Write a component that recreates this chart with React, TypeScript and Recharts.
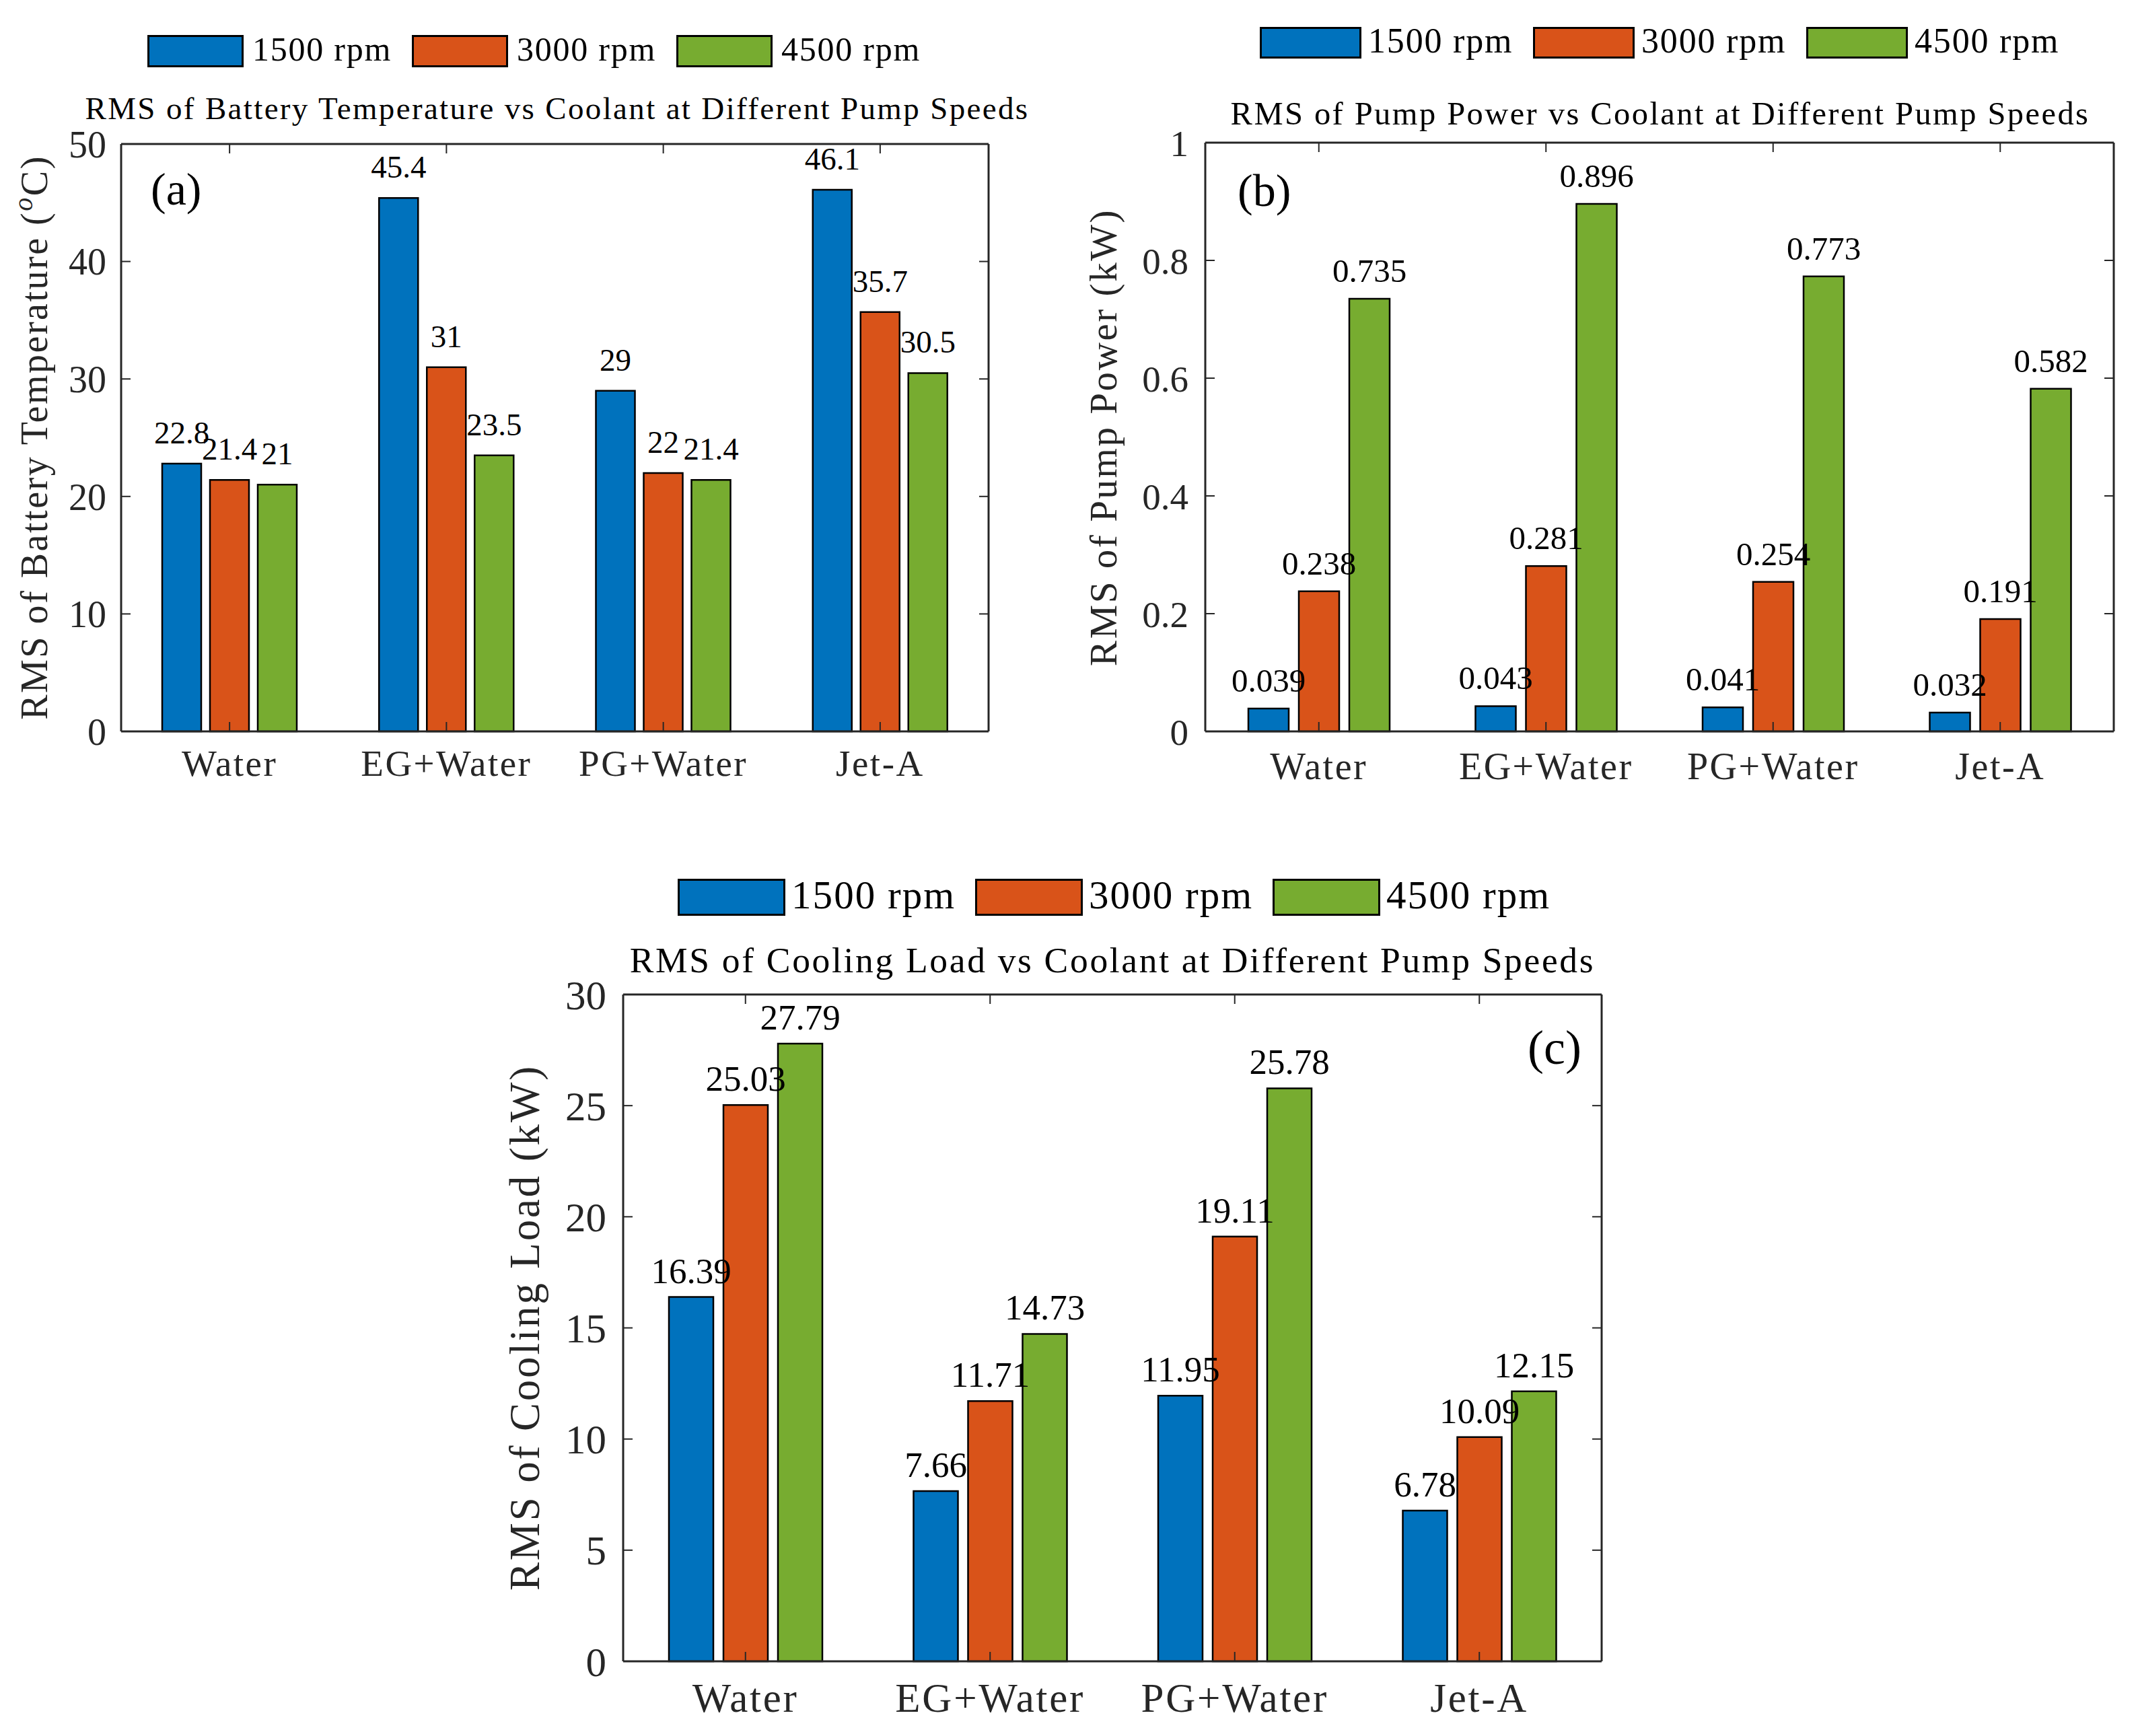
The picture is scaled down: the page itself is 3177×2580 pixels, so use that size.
import React from 'react';
import { BarChart, Bar, XAxis, YAxis, Legend, LabelList } from 'recharts';

// ---------- data ----------
const coolants = ['Water', 'EG+Water', 'PG+Water', 'Jet-A'];
const speeds = ['1500 rpm', '3000 rpm', '4500 rpm'];

const batteryTemp1500 = [22.8, 45.4, 29, 46.1];
const batteryTemp3000 = [21.4, 31, 22, 35.7];
const batteryTemp4500 = [21, 23.5, 21.4, 30.5];

const pumpPower1500 = [0.039, 0.043, 0.041, 0.032];
const pumpPower3000 = [0.238, 0.281, 0.254, 0.191];
const pumpPower4500 = [0.735, 0.896, 0.773, 0.582];

const coolingLoad1500 = [16.39, 7.66, 11.95, 6.78];
const coolingLoad3000 = [25.03, 11.71, 19.11, 10.09];
const coolingLoad4500 = [27.79, 14.73, 25.78, 12.15];

const tempTicks = [0, 10, 20, 30, 40, 50];
const powerTicks = [0, 0.2, 0.4, 0.6, 0.8, 1];
const loadTicks = [0, 5, 10, 15, 20, 25, 30];

const titleA = 'RMS of Battery Temperature vs Coolant at Different Pump Speeds';
const titleB = 'RMS of Pump Power vs Coolant at Different Pump Speeds';
const titleC = 'RMS of Cooling Load vs Coolant at Different Pump Speeds';
const yLabelA = 'RMS of Battery Temperature (';
const yLabelB = 'RMS of Pump Power (kW)';
const yLabelC = 'RMS of Cooling Load (kW)';

// ---------- styles ----------
const FONT = "'Liberation Serif', 'Times New Roman', serif";
const AX = '#262626';
const COLORS = ['#0072BD', '#D95319', '#77AC30'];

const buildRows = (series: number[][]) =>
  coolants.map((name, i) => {
    const row: Record<string, string | number> = { name };
    series.forEach((s, k) => {
      row['s' + k] = s[i];
    });
    return row;
  });

const noTick = () => <g />;

type PanelCfg = {
  left: number;
  top: number;
  width: number;
  height: number;
  margin: { top: number; right: number; bottom: number; left: number };
  series: number[][];
  domain: [number, number];
  ticks: number[];
  barSize: number;
  barGap: number;
  labelOffset: number;
  labelFont: number;
  yFont: number;
  yTickMargin: number;
  xFont: number;
  xTickMargin: number;
  legend: { left: number; top: number; boxW: number; boxH: number; stride: number; gap: number; font: number };
};

function LegendBody({ payload, cfg }: { payload?: any[]; cfg: PanelCfg['legend'] }) {
  const items = payload || [];
  return (
    <div style={{ display: 'flex', flexDirection: 'row', height: cfg.boxH, alignItems: 'center' }}>
      {items.map((it: any, i: number) => (
        <div key={i} style={{ width: cfg.stride, display: 'flex', alignItems: 'center', flex: 'none' }}>
          <div
            style={{
              width: cfg.boxW,
              height: cfg.boxH,
              boxSizing: 'border-box',
              border: '3px solid #000',
              background: it.color,
              flex: 'none',
            }}
          />
          <span
            style={{
              marginLeft: cfg.gap,
              fontFamily: FONT,
              fontSize: cfg.font,
              lineHeight: 1,
              color: '#000',
              letterSpacing: '0.035em',
              whiteSpace: 'nowrap',
              position: 'relative',
              top: -3,
            }}
          >
            {it.value}
          </span>
        </div>
      ))}
    </div>
  );
}

function Panel(p: PanelCfg) {
  const data = buildRows(p.series);
  const axisLine = { stroke: AX, strokeWidth: 3 };
  const tickLine = { stroke: AX, strokeWidth: 2 };
  return (
    <div
      style={{
        position: 'absolute',
        left: p.left,
        top: p.top,
        width: p.width,
        height: p.height,
        fontFamily: FONT,
      }}
    >
      <BarChart
        width={p.width}
        height={p.height}
        data={data}
        margin={p.margin}
        barSize={p.barSize}
        barGap={p.barGap}
        style={{ fontFamily: FONT }}
      >
        <Legend
          layout="vertical"
          align="center"
          verticalAlign="middle"
          wrapperStyle={{ left: p.legend.left, top: p.legend.top, width: 1500, height: p.legend.boxH }}
          content={(props: any) => <LegendBody payload={props.payload} cfg={p.legend} />}
        />
        {p.series.map((_, k) => (
          <Bar
            key={k}
            dataKey={'s' + k}
            name={speeds[k]}
            fill={COLORS[k]}
            stroke="#000"
            strokeWidth={2.5}
            isAnimationActive={false}
          >
            <LabelList
              dataKey={'s' + k}
              position="top"
              offset={p.labelOffset}
              fill="#000"
              fontSize={p.labelFont}
              fontFamily={FONT}
              style={{ fontFamily: FONT }}
            />
          </Bar>
        ))}
        <XAxis
          dataKey="name"
          height={80}
          interval={0}
          tickSize={-14}
          tickMargin={p.xTickMargin}
          axisLine={axisLine}
          tickLine={tickLine}
          tick={{ fill: AX, fontSize: p.xFont, fontFamily: FONT, letterSpacing: '0.045em' }}
        />
        <XAxis
          dataKey="name"
          xAxisId="top"
          orientation="top"
          height={1}
          interval={0}
          tickSize={-14}
          axisLine={axisLine}
          tickLine={tickLine}
          tick={noTick}
        />
        <YAxis
          width={100}
          type="number"
          domain={p.domain}
          ticks={p.ticks}
          interval={0}
          tickSize={-14}
          tickMargin={p.yTickMargin}
          axisLine={axisLine}
          tickLine={tickLine}
          tick={{ fill: AX, fontSize: p.yFont, fontFamily: FONT }}
        />
        <YAxis
          yAxisId="right"
          orientation="right"
          width={1}
          type="number"
          domain={p.domain}
          ticks={p.ticks}
          allowDataOverflow
          interval={0}
          tickSize={-14}
          axisLine={axisLine}
          tickLine={tickLine}
          tick={noTick}
        />
      </BarChart>
    </div>
  );
}

const panelA: PanelCfg = {
  left: 0,
  top: 0,
  width: 1570,
  height: 1220,
  margin: { top: 213, right: 100, bottom: 53, left: 80 },
  series: [batteryTemp1500, batteryTemp3000, batteryTemp4500],
  domain: [0, 50],
  ticks: tempTicks,
  barSize: 58,
  barGap: 13,
  labelOffset: 30,
  labelFont: 47,
  yFont: 56,
  yTickMargin: 36,
  xFont: 55,
  xTickMargin: 41,
  legend: { left: 219, top: 52, boxW: 143, boxH: 48, stride: 393, gap: 13, font: 50 },
};

const panelB: PanelCfg = {
  left: 1570,
  top: 0,
  width: 1607,
  height: 1220,
  margin: { top: 211, right: 35, bottom: 53, left: 121 },
  series: [pumpPower1500, pumpPower3000, pumpPower4500],
  domain: [0, 1],
  ticks: powerTicks,
  barSize: 60,
  barGap: 15,
  labelOffset: 25,
  labelFont: 49,
  yFont: 55,
  yTickMargin: 39,
  xFont: 56,
  xTickMargin: 45,
  legend: { left: 302, top: 40, boxW: 151, boxH: 47, stride: 406, gap: 10, font: 52 },
};

const panelC: PanelCfg = {
  left: 600,
  top: 1220,
  width: 1900,
  height: 1360,
  margin: { top: 257, right: 119, bottom: 31, left: 226 },
  series: [coolingLoad1500, coolingLoad3000, coolingLoad4500],
  domain: [0, 30],
  ticks: loadTicks,
  barSize: 66,
  barGap: 15,
  labelOffset: 21,
  labelFont: 53,
  yFont: 61,
  yTickMargin: 39,
  xFont: 61,
  xTickMargin: 46,
  legend: { left: 407, top: 86, boxW: 160, boxH: 55, stride: 442, gap: 9, font: 59 },
};

function Overlay() {
  const base = { fontFamily: FONT, fill: '#000' } as const;
  return (
    <svg width={3177} height={2580} style={{ position: 'absolute', left: 0, top: 0, pointerEvents: 'none' }}>
      <text x={828} y={177} textAnchor="middle" fontSize={47} style={{ letterSpacing: '0.05em' }} {...base}>
        {titleA}
      </text>
      <text x={2467} y={185} textAnchor="middle" fontSize={48.5} style={{ letterSpacing: '0.05em' }} {...base}>
        {titleB}
      </text>
      <text x={1653} y={1445} textAnchor="middle" fontSize={53.5} style={{ letterSpacing: '0.05em' }} {...base}>
        {titleC}
      </text>

      <text
        transform="translate(70,650) rotate(-90)"
        textAnchor="middle"
        fontSize={56}
        style={{ letterSpacing: '0.045em' }}
        fontFamily={FONT}
        fill={AX}
      >
        {yLabelA}
        <tspan fontStyle="italic" fontSize={40} dy={-22}>
          o
        </tspan>
        <tspan dy={22}>C)</tspan>
      </text>
      <text
        transform="translate(1659,650) rotate(-90)"
        textAnchor="middle"
        fontSize={57}
        style={{ letterSpacing: '0.045em' }}
        fontFamily={FONT}
        fill={AX}
      >
        {yLabelB}
      </text>
      <text
        transform="translate(801,1973) rotate(-90)"
        textAnchor="middle"
        fontSize={63}
        style={{ letterSpacing: '0.045em' }}
        fontFamily={FONT}
        fill={AX}
      >
        {yLabelC}
      </text>

      <text x={224} y={304} fontSize={68} {...base}>
        (a)
      </text>
      <text x={1839} y={306} fontSize={68} {...base}>
        (b)
      </text>
      <text x={2270} y={1581} fontSize={72} {...base}>
        (c)
      </text>
    </svg>
  );
}

export default function App() {
  return (
    <div
      style={{
        position: 'absolute',
        left: 0,
        top: 0,
        width: 3177,
        height: 2580,
        background: '#fff',
        overflow: 'hidden',
        fontFamily: FONT,
      }}
    >
      <Panel {...panelA} />
      <Panel {...panelB} />
      <Panel {...panelC} />
      <Overlay />
    </div>
  );
}
